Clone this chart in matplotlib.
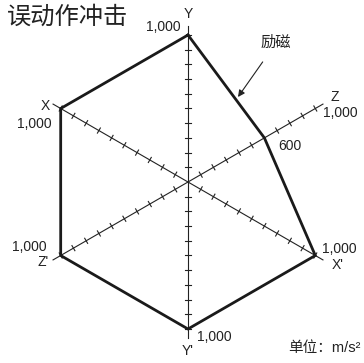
import numpy as np
import matplotlib
matplotlib.use('Agg')
import matplotlib.pyplot as plt

plt.rcParams['font.family'] = ['Liberation Sans', 'Noto Sans CJK SC', 'DejaVu Sans']

# Data
axis_names = ['Y', 'Z', "X'", "Y'", "Z'", 'X']
axis_angles = [90, 30, -30, -90, -150, 150]
values = [1000, 600, 1000, 1000, 1000, 1000]
tick_values = list(range(100, 1001, 100))
value_labels = ['1,000', '600', '1,000', '1,000', '1,000', '1,000']
z_end_label = '1,000'
title = '误动作冲击'
curve_label = '励磁'
unit_label = '单位：m/s²'

W, H = 364, 363
CX, CY = 188, 182
SCALE = 147 / 1000.0


def px(x, y):
    # pixel position -> data coords
    return (x - CX) / SCALE, (CY - y) / SCALE


fig = plt.figure(figsize=(W / 100, H / 100), dpi=100)
ax = fig.add_axes([0, 0, 1, 1])
x0, y1 = px(0, 0)
x1, y0 = px(W, H)
ax.set_xlim(x0, x1)
ax.set_ylim(y0, y1)
ax.axis('off')

# axes lines with ticks (three lines through the center)
ext = 1060
tick_half = 20
for ang in [90, 30, 150]:
    a = np.radians(ang)
    d = np.array([np.cos(a), np.sin(a)])
    n = np.array([-d[1], d[0]])
    ax.plot([-ext * d[0], ext * d[0]], [-ext * d[1], ext * d[1]],
            color='#222222', lw=0.8, zorder=2)
    for t in tick_values:
        for s in (1, -1):
            p = s * t * d
            ax.plot([p[0] - tick_half * n[0], p[0] + tick_half * n[0]],
                    [p[1] - tick_half * n[1], p[1] + tick_half * n[1]],
                    color='#222222', lw=0.8, zorder=2)

# the polygon
rads = np.radians(axis_angles)
xs = np.array(values) * np.cos(rads)
ys = np.array(values) * np.sin(rads)
ax.plot(np.append(xs, xs[0]), np.append(ys, ys[0]), color='#1a1a1a',
        lw=2.0, solid_joinstyle='miter', zorder=3)

# labels
fs = 10
ax.text(*px(7, 17), title, fontsize=17.5, ha='left', va='center', color='#222222')

name_pos = [(188, 14), (335, 97), (338, 265), (188, 351), (43, 262), (45, 106)]
val_pos = [(181, 27, 'right'), (278, 146, 'left'), (322, 249, 'left'),
           (197, 337, 'left'), (47, 247, 'right'), (52, 124, 'right')]
for name, (nx, ny) in zip(axis_names, name_pos):
    ax.text(*px(nx, ny), name, fontsize=fs, ha='center', va='center', color='#222222')
for lab, (vx, vy, ha) in zip(value_labels, val_pos):
    ax.text(*px(vx, vy), lab, fontsize=fs, ha=ha, va='center', color='#222222')
ax.text(*px(323, 113), z_end_label, fontsize=fs, ha='left', va='center', color='#222222')

# annotation arrow
ax.annotate(curve_label, xy=px(238, 97), xytext=px(276, 43),
            fontsize=11, ha='center', va='center', color='#222222',
            arrowprops=dict(arrowstyle='-|>', color='#222222', lw=0.8,
                            mutation_scale=10, shrinkA=8, shrinkB=0))

ax.text(*px(288, 348), unit_label, fontsize=10.5, ha='left', va='center', color='#222222')

fig.savefig('out.png', dpi=100)
